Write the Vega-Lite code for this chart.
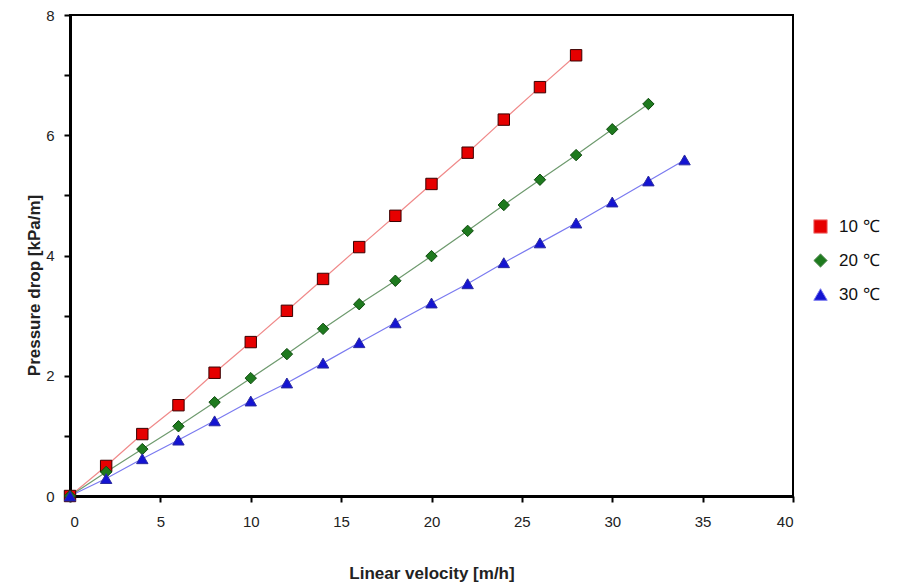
{
  "$schema": "https://vega.github.io/schema/vega-lite/v6.json",
  "width": 723,
  "height": 481,
  "autosize": {"type": "none"},
  "padding": {"left": 70, "top": 15, "right": 120, "bottom": 91},
  "background": "white",
  "config": {
    "font": "Liberation Sans",
    "view": {"stroke": "black", "strokeWidth": 2},
    "axis": {
      "grid": false,
      "domainColor": "black",
      "domainWidth": 3,
      "tickColor": "black",
      "tickWidth": 2,
      "tickSize": 6,
      "labelFont": "Liberation Sans",
      "labelFontSize": 15,
      "labelColor": "#222",
      "titleFont": "Liberation Sans",
      "titleFontWeight": "bold",
      "titleColor": "#222"
    }
  },
  "data": {
    "values": [
      {"series": "10 ℃", "v": 0, "p": 0},
      {"series": "10 ℃", "v": 2, "p": 0.5},
      {"series": "10 ℃", "v": 4, "p": 1.03},
      {"series": "10 ℃", "v": 6, "p": 1.51},
      {"series": "10 ℃", "v": 8, "p": 2.05},
      {"series": "10 ℃", "v": 10, "p": 2.56},
      {"series": "10 ℃", "v": 12, "p": 3.08},
      {"series": "10 ℃", "v": 14, "p": 3.61},
      {"series": "10 ℃", "v": 16, "p": 4.14},
      {"series": "10 ℃", "v": 18, "p": 4.66},
      {"series": "10 ℃", "v": 20, "p": 5.19},
      {"series": "10 ℃", "v": 22, "p": 5.71},
      {"series": "10 ℃", "v": 24, "p": 6.26},
      {"series": "10 ℃", "v": 26, "p": 6.8},
      {"series": "10 ℃", "v": 28, "p": 7.33},
      {"series": "20 ℃", "v": 0, "p": 0},
      {"series": "20 ℃", "v": 2, "p": 0.4},
      {"series": "20 ℃", "v": 4, "p": 0.78},
      {"series": "20 ℃", "v": 6, "p": 1.16},
      {"series": "20 ℃", "v": 8, "p": 1.56},
      {"series": "20 ℃", "v": 10, "p": 1.96},
      {"series": "20 ℃", "v": 12, "p": 2.36},
      {"series": "20 ℃", "v": 14, "p": 2.78},
      {"series": "20 ℃", "v": 16, "p": 3.19},
      {"series": "20 ℃", "v": 18, "p": 3.58},
      {"series": "20 ℃", "v": 20, "p": 3.99},
      {"series": "20 ℃", "v": 22, "p": 4.41},
      {"series": "20 ℃", "v": 24, "p": 4.84},
      {"series": "20 ℃", "v": 26, "p": 5.26},
      {"series": "20 ℃", "v": 28, "p": 5.67},
      {"series": "20 ℃", "v": 30, "p": 6.1},
      {"series": "20 ℃", "v": 32, "p": 6.52},
      {"series": "30 ℃", "v": 0, "p": 0},
      {"series": "30 ℃", "v": 2, "p": 0.29},
      {"series": "30 ℃", "v": 4, "p": 0.62},
      {"series": "30 ℃", "v": 6, "p": 0.93},
      {"series": "30 ℃", "v": 8, "p": 1.25},
      {"series": "30 ℃", "v": 10, "p": 1.58},
      {"series": "30 ℃", "v": 12, "p": 1.88},
      {"series": "30 ℃", "v": 14, "p": 2.21},
      {"series": "30 ℃", "v": 16, "p": 2.55},
      {"series": "30 ℃", "v": 18, "p": 2.88},
      {"series": "30 ℃", "v": 20, "p": 3.21},
      {"series": "30 ℃", "v": 22, "p": 3.53},
      {"series": "30 ℃", "v": 24, "p": 3.88},
      {"series": "30 ℃", "v": 26, "p": 4.21},
      {"series": "30 ℃", "v": 28, "p": 4.54},
      {"series": "30 ℃", "v": 30, "p": 4.89},
      {"series": "30 ℃", "v": 32, "p": 5.24},
      {"series": "30 ℃", "v": 34, "p": 5.59}
    ]
  },
  "encoding": {
    "x": {
      "field": "v", "type": "quantitative",
      "scale": {"domain": [0, 40], "nice": false},
      "axis": {"values": [0, 5, 10, 15, 20, 25, 30, 35, 40], "labelPadding": 12, "title": "Linear velocity [m/h]", "titleFontSize": 17, "titlePadding": 36, "titleFont": "Liberation Sans Narrow, Liberation Sans",
        "encode": {"ticks": {"update": {"y2": {"value": -6}}}}}
    },
    "y": {
      "field": "p", "type": "quantitative",
      "scale": {"domain": [0, 8], "nice": false},
      "axis": {"values": [0, 1, 2, 3, 4, 5, 6, 7, 8], "labelExpr": "datum.value % 2 == 0 ? datum.label : ''", "labelPadding": 10, "title": "Pressure drop [kPa/m]", "titleFontSize": 17, "titlePadding": 2, "titleY": 270,
        "encode": {"ticks": {"update": {"x2": {"value": 6}}}}}
    }
  },
  "layer": [
    {
      "mark": {"type": "line", "strokeWidth": 1.2, "clip": false},
      "encoding": {
        "color": {
          "field": "series", "type": "nominal",
          "scale": {"domain": ["10 ℃", "20 ℃", "30 ℃"], "range": ["#f08a8a", "#6e9a6e", "#7a7af0"]}
        }
      }
    },
    {
      "mark": {"type": "point", "filled": true, "size": 130, "strokeWidth": 1, "opacity": 1, "clip": false},
      "encoding": {
        "fill": {
          "field": "series", "type": "nominal",
          "scale": {"domain": ["10 ℃", "20 ℃", "30 ℃"], "range": ["#e60000", "#1e7a1e", "#1414d2"]}
        },
        "shape": {
          "field": "series", "type": "nominal",
          "scale": {"domain": ["10 ℃", "20 ℃", "30 ℃"], "range": ["square", "diamond", "triangle-up"]},
          "legend": {
            "title": null,
            "orient": "none",
            "legendX": 742,
            "legendY": 203,
            "rowPadding": 15,
            "labelFont": "Liberation Sans",
            "labelFontSize": 17,
            "labelColor": "#111",
            "labelOffset": 10,
            "symbolSize": 180,
            "symbolStrokeWidth": 1,
            "symbolOpacity": 1
          }
        },
        "stroke": {
          "field": "series", "type": "nominal",
          "scale": {"domain": ["10 ℃", "20 ℃", "30 ℃"], "range": ["#3a0000", "#0d4a0d", "#2a2aa0"]}
        }
      }
    }
  ]
}
